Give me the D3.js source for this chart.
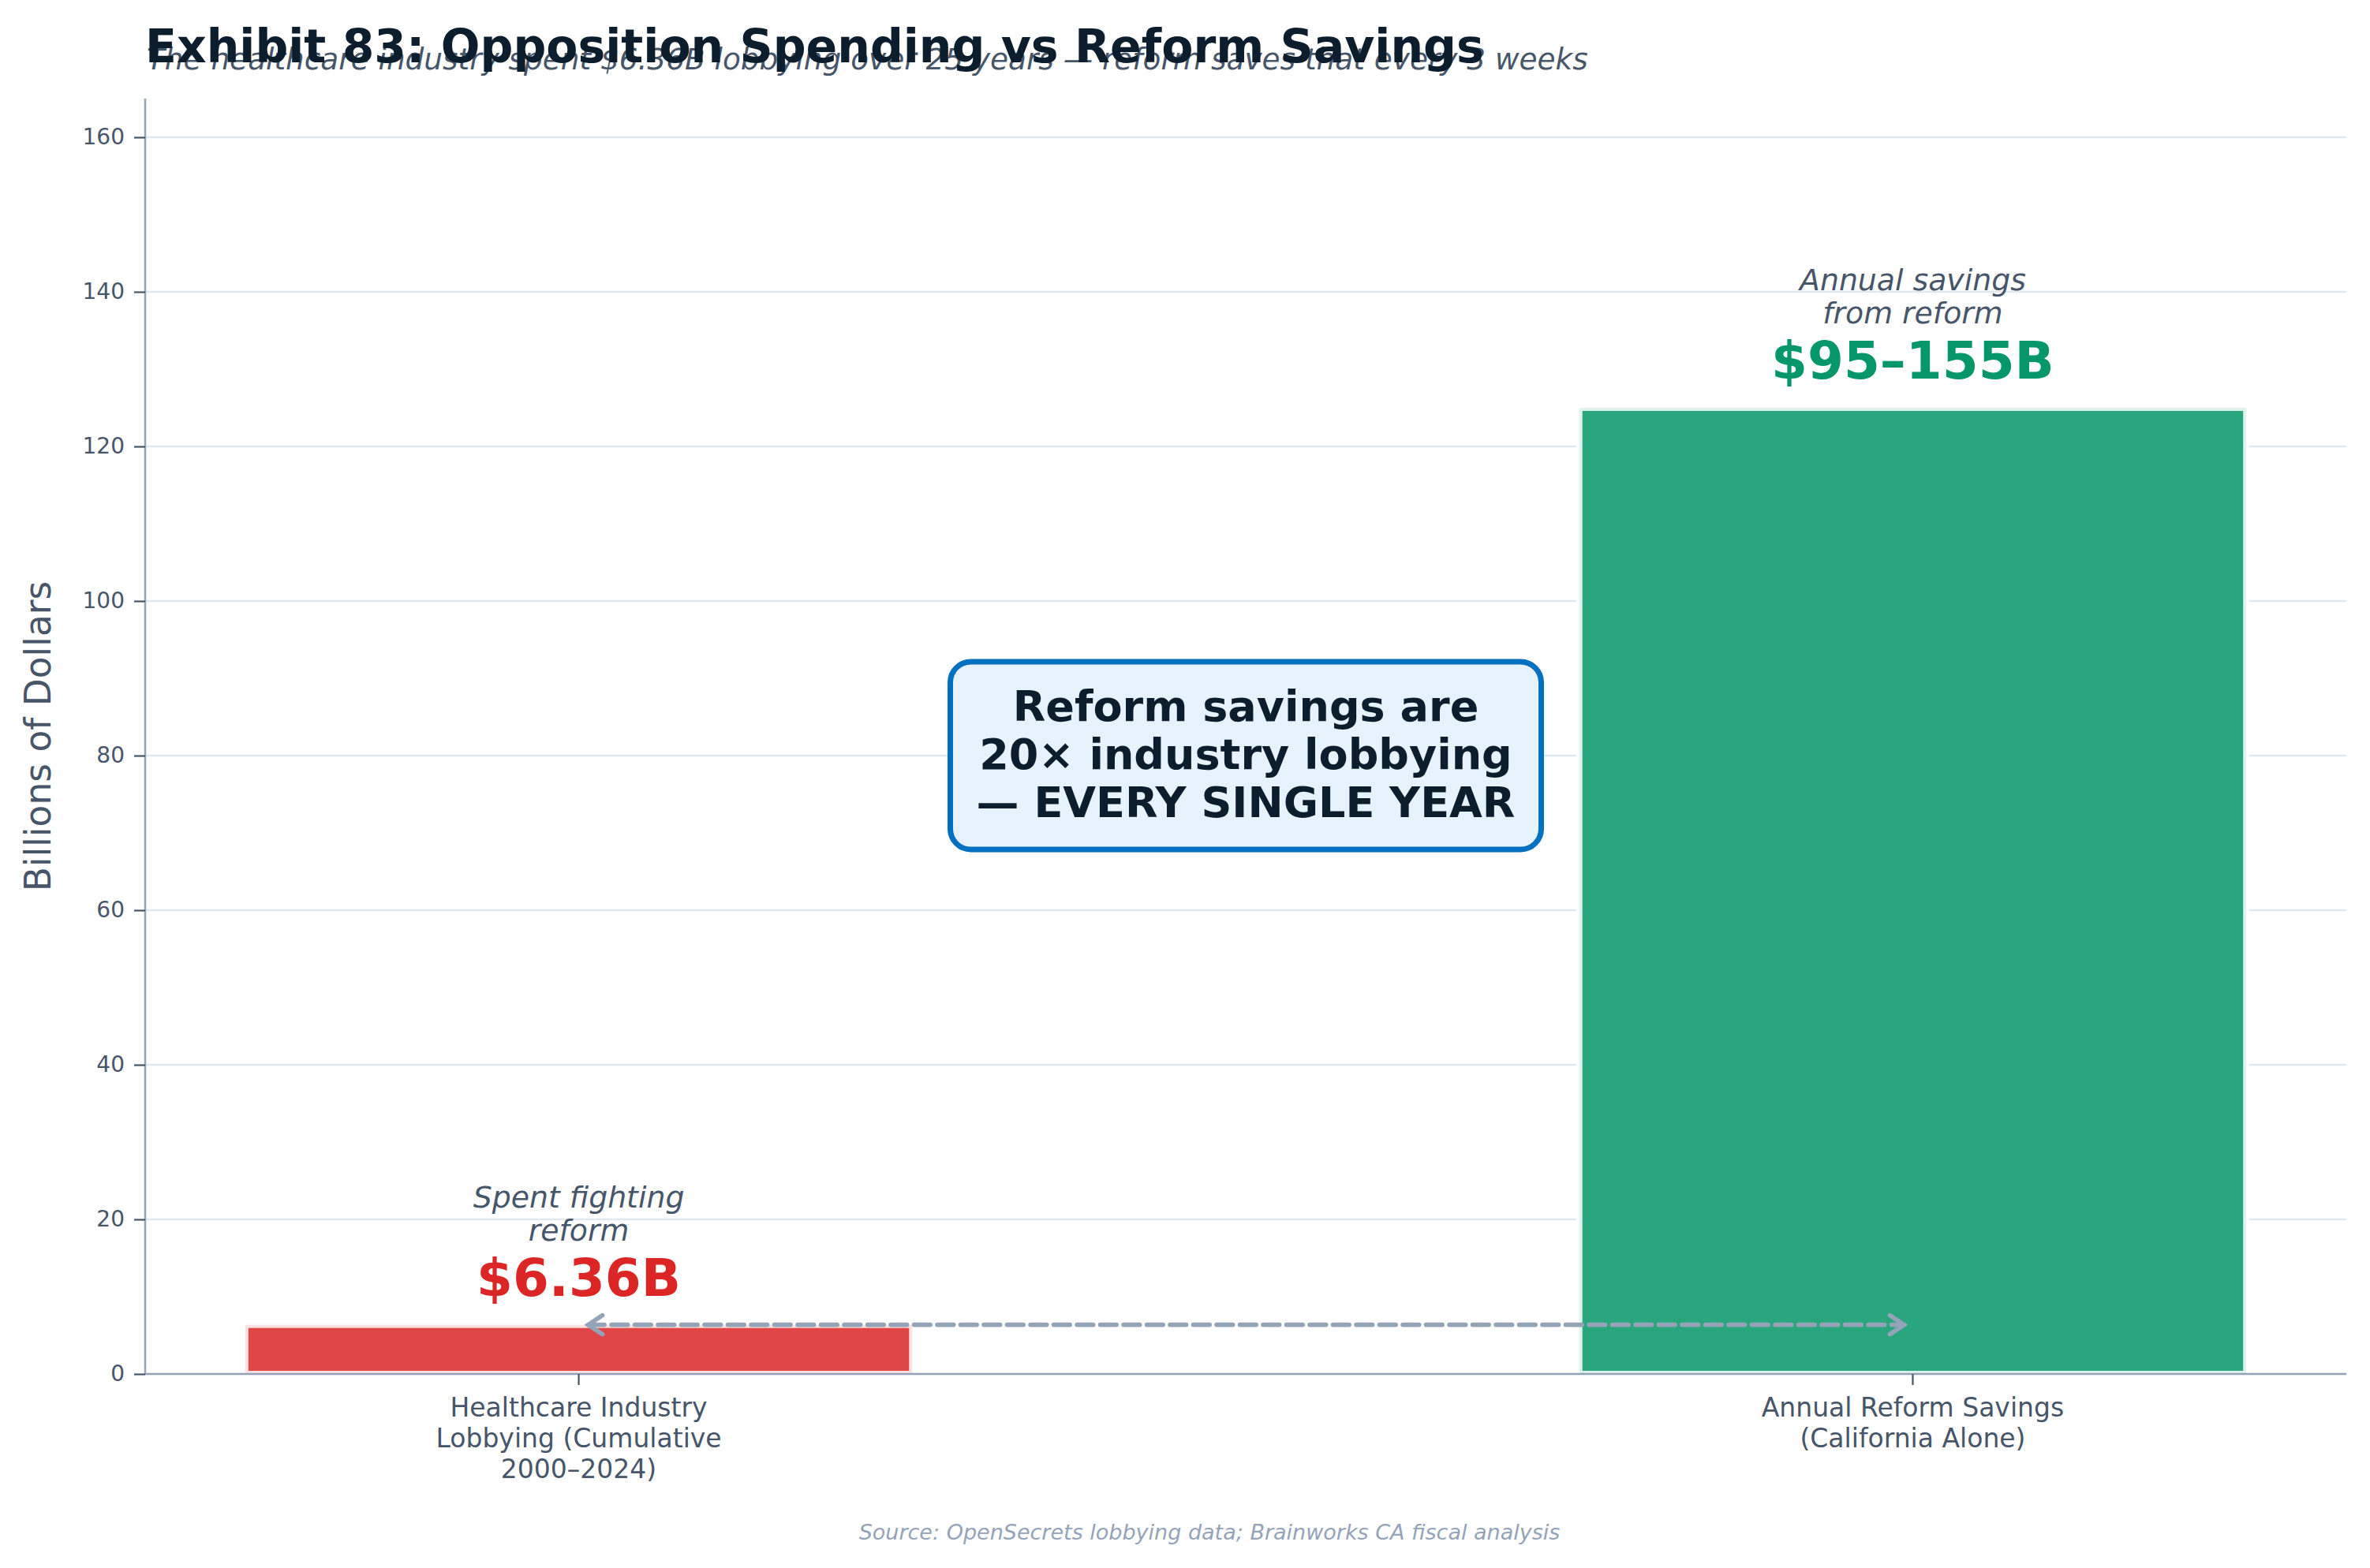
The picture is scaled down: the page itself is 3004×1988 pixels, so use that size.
<!DOCTYPE html>
<html>
<head>
<meta charset="utf-8">
<script src="https://cdn.jsdelivr.net/npm/d3@7"></script>
<style>
  body { margin: 0; background: #fff; }
  svg, svg text { font-family: "DejaVu Sans", sans-serif; }
</style>
</head>
<body>
<svg id="chart" width="3004" height="1988"></svg>
<script>
const width = 3004;
const height = 1988;
const margin = { top: 125, right: 30, bottom: 246, left: 184 };

// data
const categories = ["Healthcare Industry\nLobbying (Cumulative\n2000–2024)", "Annual Reform Savings\n(California Alone)"];
const values = [6.36, 125];
const valueLabels = ["$6.36B", "$95–155B"];
const noteLabels = ["Spent fighting\nreform", "Annual savings\nfrom reform"];
const barColors = ["#dc2626", "#059669"];
const yTicks = [0, 20, 40, 60, 80, 100, 120, 140, 160];
const yMax = 165;
const calloutLines = ["Reform savings are", "20× industry lobbying", "— EVERY SINGLE YEAR"];
const calloutY = 80;

const svg = d3.select("#chart");

const x = d3.scaleBand()
  .domain(d3.range(categories.length))
  .range([margin.left, width - margin.right])
  .paddingInner(0.5)
  .paddingOuter(0.075);

const y = d3.scaleLinear()
  .domain([0, yMax])
  .range([height - margin.bottom, margin.top]);

// grid
svg.append("g")
  .selectAll("line")
  .data(yTicks)
  .join("line")
  .attr("x1", margin.left)
  .attr("x2", width - margin.right)
  .attr("y1", d => y(d))
  .attr("y2", d => y(d))
  .attr("stroke", "#e2e8f0")
  .attr("stroke-width", 2.5);

// bars
svg.append("g")
  .selectAll("rect")
  .data(values)
  .join("rect")
  .attr("x", (d, i) => x(i))
  .attr("width", x.bandwidth())
  .attr("y", d => y(d))
  .attr("height", d => y(0) - y(d))
  .attr("fill", (d, i) => barColors[i])
  .attr("fill-opacity", 0.85)
  .attr("stroke", "#fff")
  .attr("stroke-opacity", 0.85)
  .attr("stroke-width", 8);

// y axis
const yAxis = svg.append("g")
  .attr("transform", `translate(${margin.left},0)`)
  .call(d3.axisLeft(y).tickValues(yTicks).tickSize(14).tickPadding(12))
  .attr("font-family", "DejaVu Sans")
  .attr("font-size", null);
yAxis.select(".domain").attr("stroke", "#94a3b8").attr("stroke-width", 2.5)
  .attr("d", `M0,${y(0)}V${y(yMax)}`);
yAxis.selectAll(".tick line").attr("stroke", "#475569").attr("stroke-width", 2.2);
yAxis.selectAll(".tick text").attr("fill", "#475569").style("font-size", "28px");

// x axis
const xAxis = svg.append("g")
  .attr("transform", `translate(0,${y(0)})`)
  .call(d3.axisBottom(x).tickSize(14).tickPadding(10).tickFormat(""))
  .attr("font-family", "DejaVu Sans")
  .attr("font-size", null);
xAxis.select(".domain").attr("stroke", "#94a3b8").attr("stroke-width", 2.5)
  .attr("d", `M${margin.left},0H${width - margin.right}`);
xAxis.selectAll(".tick line").attr("stroke", "#475569").attr("stroke-width", 2.2);
xAxis.selectAll(".tick text").remove();
xAxis.selectAll(".tick").append("text")
  .attr("fill", "#475569")
  .attr("text-anchor", "middle")
  .style("font-size", "33px")
  .selectAll("tspan")
  .data(i => categories[i].split("\n"))
  .join("tspan")
  .attr("x", 0)
  .attr("y", (d, j) => 54 + j * 39)
  .text(d => d);

// value labels above bars
const ann = svg.append("g").selectAll("g")
  .data(values)
  .join("g")
  .attr("transform", (d, i) => `translate(${x(i) + x.bandwidth() / 2},${y(d)})`);

ann.append("text")
  .attr("y", -37)
  .attr("text-anchor", "middle")
  .attr("fill", (d, i) => barColors[i])
  .style("font-size", "66px")
  .style("font-weight", "bold")
  .text((d, i) => valueLabels[i]);

ann.append("text")
  .attr("text-anchor", "middle")
  .attr("fill", "#475569")
  .style("font-size", "37.8px")
  .style("font-style", "italic")
  .selectAll("tspan")
  .data((d, i) => noteLabels[i].split("\n"))
  .join("tspan")
  .attr("x", 0)
  .attr("y", (d, j, n) => -107 - (n.length - 1 - j) * 42)
  .text(d => d);

// dashed double arrow between the two bars
const arrowY = y(values[0]);
const ax1 = x(0) + x.bandwidth() / 2 + 12;
const ax2 = x(1) + x.bandwidth() / 2 - 11;
const arrow = svg.append("g")
  .attr("stroke", "#94a3b8")
  .attr("stroke-width", 5.6)
  .attr("stroke-linecap", "round")
  .attr("fill", "none");
arrow.append("line")
  .attr("x1", ax1).attr("x2", ax2)
  .attr("y1", arrowY).attr("y2", arrowY)
  .attr("stroke-dasharray", "20.6 8.9");
arrow.append("path")
  .attr("d", `M${ax1 + 18},${arrowY - 12}L${ax1},${arrowY}L${ax1 + 18},${arrowY + 12}`);
arrow.append("path")
  .attr("d", `M${ax2 - 18},${arrowY - 12}L${ax2},${arrowY}L${ax2 - 18},${arrowY + 12}`);

// callout box
const cx = (margin.left + width - margin.right) / 2;
const cy = y(calloutY);
const boxW = 749, boxH = 238;
const callout = svg.append("g").attr("transform", `translate(${cx},${cy})`);
callout.append("rect")
  .attr("x", -boxW / 2).attr("y", -boxH / 2)
  .attr("width", boxW).attr("height", boxH)
  .attr("rx", 26)
  .attr("fill", "#e6f3fc")
  .attr("stroke", "#0070c0")
  .attr("stroke-width", 7);
callout.append("text")
  .attr("text-anchor", "middle")
  .attr("fill", "#0c1d2d")
  .style("font-size", "54px")
  .style("font-weight", "bold")
  .selectAll("tspan")
  .data(calloutLines)
  .join("tspan")
  .attr("x", 0)
  .attr("y", (d, j) => -44 + j * 61)
  .text(d => d);

// titles
svg.append("text")
  .attr("x", 186)
  .attr("y", 88)
  .attr("fill", "#475569")
  .style("font-size", "37.4px")
  .style("font-style", "italic")
  .text("The healthcare industry spent $6.36B lobbying over 25 years — reform saves that every 3 weeks");

svg.append("text")
  .attr("x", 184)
  .attr("y", 79)
  .attr("fill", "#0c1d2d")
  .style("font-size", "58.5px")
  .style("font-weight", "bold")
  .text("Exhibit 83: Opposition Spending vs Reform Savings");

svg.append("text")
  .attr("transform", `translate(64,${(y(0) + y(yMax)) / 2}) rotate(-90)`)
  .attr("text-anchor", "middle")
  .attr("fill", "#475569")
  .style("font-size", "45.5px")
  .text("Billions of Dollars");

svg.append("text")
  .attr("x", 1533)
  .attr("y", 1952)
  .attr("text-anchor", "middle")
  .attr("fill", "#94a3b8")
  .style("font-size", "27px")
  .style("font-style", "italic")
  .text("Source: OpenSecrets lobbying data; Brainworks CA fiscal analysis");
</script>
</body>
</html>
